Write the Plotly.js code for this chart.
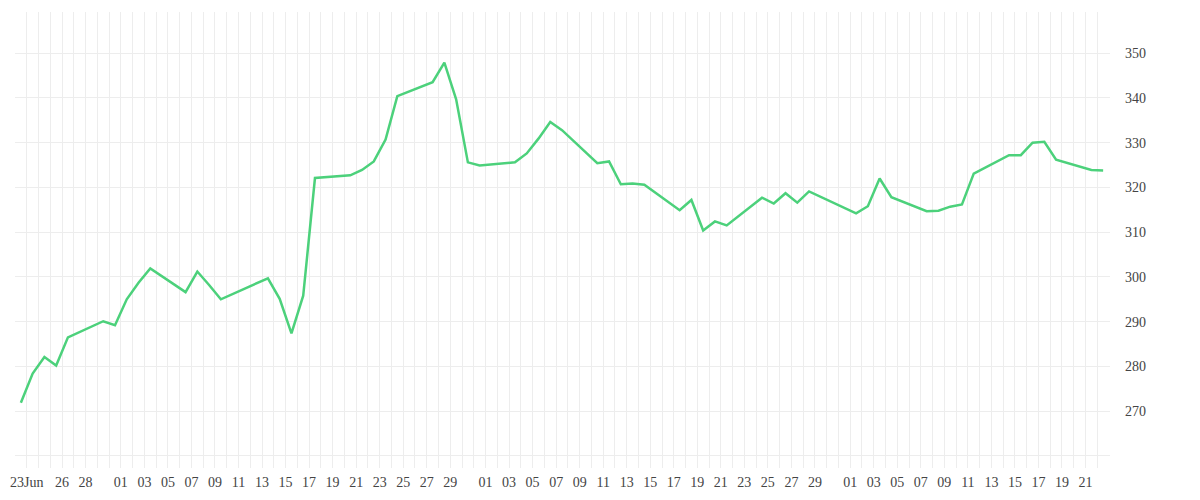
<!DOCTYPE html>
<html>
<head>
<meta charset="utf-8">
<script src="https://cdn.plot.ly/plotly-3.0.1.min.js"></script>
<style>
  html, body { margin: 0; padding: 0; background: #fff; }
  #chart { width: 1200px; height: 500px; }
</style>
</head>
<body>
<div id="chart"></div>
<script>
// daily closes, points sit at midday
var dates = [
  '2020-06-22', '2020-06-23', '2020-06-24', '2020-06-25', '2020-06-26',
  '2020-06-29', '2020-06-30', '2020-07-01', '2020-07-02', '2020-07-03',
  '2020-07-06', '2020-07-07', '2020-07-08', '2020-07-09',
  '2020-07-13', '2020-07-14', '2020-07-15', '2020-07-16', '2020-07-17',
  '2020-07-20', '2020-07-21', '2020-07-22', '2020-07-23', '2020-07-24',
  '2020-07-27', '2020-07-28', '2020-07-29', '2020-07-30', '2020-07-31',
  '2020-08-03', '2020-08-04', '2020-08-05', '2020-08-06', '2020-08-07',
  '2020-08-10', '2020-08-11', '2020-08-12', '2020-08-13', '2020-08-14',
  '2020-08-17', '2020-08-18', '2020-08-19', '2020-08-20', '2020-08-21',
  '2020-08-24', '2020-08-25', '2020-08-26', '2020-08-27', '2020-08-28',
  '2020-09-01', '2020-09-02', '2020-09-03', '2020-09-04',
  '2020-09-07', '2020-09-08', '2020-09-09', '2020-09-10', '2020-09-11',
  '2020-09-14', '2020-09-15', '2020-09-16', '2020-09-17', '2020-09-18',
  '2020-09-21', '2020-09-22'
]
var values = [
  271.9, 278.4, 282.1, 280.2, 286.5,
  290.1, 289.2, 295.0, 298.7, 301.9,
  296.6, 301.2, 298.2, 295.0,
  299.7, 295.1, 287.4, 295.8, 322.1,
  322.7, 323.9, 325.8, 330.7, 340.4,
  343.5, 347.9, 339.7, 325.6, 324.9,
  325.6, 327.6, 330.9, 334.6, 332.8,
  325.4, 325.8, 320.7, 320.9, 320.6,
  314.9, 317.2, 310.4, 312.4, 311.5,
  317.7, 316.4, 318.7, 316.6, 319.1,
  314.2, 315.8, 322.0, 317.8,
  314.7, 314.8, 315.7, 316.2, 323.1,
  327.2, 327.2, 330.0, 330.2, 326.2,
  323.9, 323.8
]

var tick_dates = ['2020-06-23', '2020-06-26', '2020-06-28']
var tick_text = ['23Jun', '26', '28']
var months = [['2020-07', 29], ['2020-08', 29], ['2020-09', 21]]
for (var m = 0; m < months.length; m++) {
  for (var d = 1; d <= months[m][1]; d += 2) {
    var dd = (d < 10 ? '0' : '') + d
    tick_dates.push(months[m][0] + '-' + dd)
    tick_text.push(dd)
  }
}

var y_ticks = [260, 270, 280, 290, 300, 310, 320, 330, 340, 350]
var y_text = ['', '270', '280', '290', '300', '310', '320', '330', '340', '350']

var x_mid = dates.map(function (d) { return d + ' 12:00' })

var data = [{
  type: 'scatter',
  mode: 'lines',
  x: x_mid,
  y: values,
  line: { color: '#4cd17b', width: 2.5 },
  hoverinfo: 'x+y'
}]

var grid = '#ededed'

var layout = {
  width: 1200,
  height: 500,
  margin: { l: 15, r: 90, t: 12, b: 32 },
  showlegend: false,
  paper_bgcolor: '#ffffff',
  plot_bgcolor: '#ffffff',
  font: { family: 'Liberation Serif, serif', size: 14, color: '#444' },
  xaxis: {
    type: 'date',
    range: ['2020-06-22', '2020-09-23 02:00'],
    tickmode: 'array',
    tickvals: tick_dates,
    ticktext: tick_text,
    showgrid: true,
    gridcolor: grid,
    gridwidth: 1,
    zeroline: false,
    showline: false,
    ticks: '',
    ticklabelstandoff: 4,
    minor: { dtick: 86400000, tick0: '2020-06-22', showgrid: true, gridcolor: grid, gridwidth: 1 }
  },
  yaxis: {
    side: 'right',
    range: [257.3, 359.2],
    tickmode: 'array',
    tickvals: y_ticks,
    ticktext: y_text,
    showgrid: true,
    gridcolor: grid,
    gridwidth: 1,
    zeroline: false,
    showline: false,
    ticks: '',
    ticklabelstandoff: 14
  }
}

Plotly.newPlot('chart', data, layout, { staticPlot: true })
</script>
</body>
</html>
